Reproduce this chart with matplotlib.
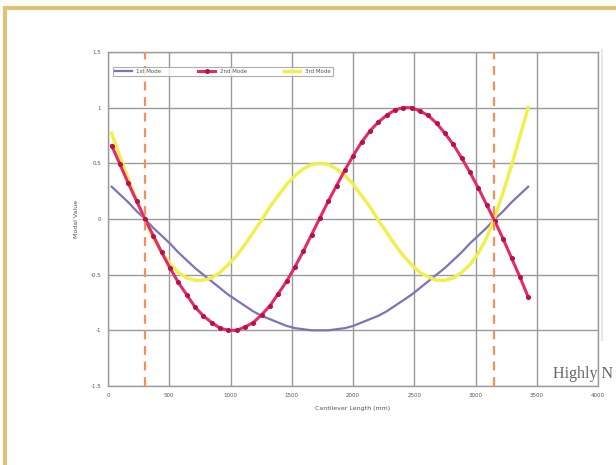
import matplotlib
matplotlib.use("Agg")
import matplotlib.pyplot as plt
from matplotlib.patches import Rectangle
from matplotlib.lines import Line2D

# ---- data ----
position = [30, 98, 166, 234, 302, 370, 438, 506, 574, 642,
            710, 778, 846, 914, 982, 1050, 1118, 1186, 1254, 1322,
            1390, 1458, 1526, 1594, 1662, 1730, 1798, 1866, 1934, 2002,
            2070, 2138, 2206, 2274, 2342, 2410, 2478, 2546, 2614, 2682,
            2750, 2818, 2886, 2954, 3022, 3090, 3158, 3226, 3294, 3362, 3430]

mode1 = [0.29, 0.22, 0.15, 0.07, 0.00, -0.08, -0.15, -0.22, -0.30, -0.37,
         -0.44, -0.50, -0.56, -0.62, -0.68, -0.73, -0.78, -0.83, -0.87, -0.90,
         -0.93, -0.96, -0.98, -0.99, -1.00, -1.00, -1.00, -0.99, -0.98, -0.96,
         -0.93, -0.90, -0.87, -0.83, -0.78, -0.73, -0.68, -0.62, -0.56, -0.50,
         -0.44, -0.37, -0.30, -0.22, -0.15, -0.08, 0.00, 0.07, 0.15, 0.22, 0.29]

mode2 = [0.66, 0.49, 0.32, 0.16, 0.00, -0.15, -0.30, -0.44, -0.57, -0.68,
         -0.79, -0.87, -0.93, -0.98, -1.00, -1.00, -0.97, -0.93, -0.86, -0.78,
         -0.67, -0.56, -0.43, -0.29, -0.14, 0.01, 0.16, 0.30, 0.44, 0.57,
         0.69, 0.79, 0.87, 0.93, 0.98, 1.00, 1.00, 0.97, 0.93, 0.86,
         0.77, 0.67, 0.55, 0.42, 0.28, 0.13, -0.02, -0.18, -0.35, -0.52, -0.70]

mode3 = [0.77, 0.56, 0.36, 0.17, 0.00, -0.17, -0.30, -0.40, -0.48, -0.53,
         -0.55, -0.55, -0.53, -0.48, -0.41, -0.33, -0.23, -0.12, -0.01, 0.11,
         0.21, 0.31, 0.39, 0.45, 0.49, 0.50, 0.49, 0.45, 0.39, 0.31,
         0.21, 0.11, -0.01, -0.12, -0.23, -0.33, -0.41, -0.48, -0.52, -0.55,
         -0.55, -0.53, -0.48, -0.41, -0.31, -0.17, 0.02, 0.24, 0.48, 0.74, 1.00]

node_positions = [300, 3150]

series_labels = ["1st Mode", "2nd Mode", "3rd Mode"]
x_ticks = [0, 500, 1000, 1500, 2000, 2500, 3000, 3500, 4000]
x_tick_labels = ["0", "500", "1000", "1500", "2000", "2500", "3000", "3500", "4000"]
y_ticks = [-1.5, -1, -0.5, 0, 0.5, 1, 1.5]
y_tick_labels = ["-1.5", "-1", "-0.5", "0", "0.5", "1", "1.5"]
x_label = "Cantilever Length (mm)"
y_label = "Modal Value"
side_text = "Highly N"

# ---- figure ----
W, H = 616, 465
fig = plt.figure(figsize=(W / 100, H / 100), dpi=100)
fig.patch.set_facecolor("#fdfcf8")

# tan frame (top and left edges visible; continues past the image edge)
frame = Rectangle((5 / W, -0.1), 1.2, (H - 8) / H + 0.1,
                  transform=fig.transFigure, facecolor="white",
                  edgecolor="#dcc37a", linewidth=3)
frame.set_zorder(-10)
fig.patches.append(frame)
shadow = Line2D([602 / W, 602 / W], [1 - 50 / H, 1 - 340 / H],
                transform=fig.transFigure, color="#e6e6e6", lw=1.5)
shadow.set_zorder(-5)
fig.lines.append(shadow)

ax = fig.add_axes([108 / W, 1 - 386 / H, 490 / W, 334 / H])
ax.set_zorder(1)
ax.set_facecolor("white")

ax.plot(position, mode1, color="#7c74b4", lw=1.6, label=series_labels[0], zorder=3)
ax.plot(position, mode2, color="#e22b6a", lw=2.2, marker="o", ms=2.6,
        markerfacecolor="#b8104a", markeredgecolor="#b8104a",
        label=series_labels[1], zorder=4)
ax.plot(position, mode3, color="#f0f04a", lw=2.4, label=series_labels[2], zorder=3)

for xn in node_positions:
    ax.axvline(xn, color="#f5905a", lw=1.6, ls=(0, (4, 3)), zorder=5)

ax.set_xlim(0, 4000)
ax.set_ylim(-1.5, 1.5)
ax.set_xticks(x_ticks)
ax.set_xticklabels(x_tick_labels)
ax.set_yticks(y_ticks)
ax.set_yticklabels(y_tick_labels)
ax.tick_params(axis="both", labelsize=4, colors="#555555", length=0, pad=5)
ax.grid(True, color="#9a9a9a", lw=1.0)
ax.set_axisbelow(True)
for s in ax.spines.values():
    s.set_color("#9a9a9a")
    s.set_linewidth(1.0)

ax.set_xlabel(x_label, fontsize=4.5, color="#555555", labelpad=6)
ax.set_ylabel(y_label, fontsize=4.5, color="#555555", labelpad=8)

leg = ax.legend(loc="lower left", bbox_to_anchor=(0.01, 0.928, 0.449, 0.063),
                mode="expand", ncol=3, fontsize=4, frameon=True, fancybox=False,
                borderaxespad=0, handlelength=3, labelcolor="#555555")
leg.get_frame().set_edgecolor("#9a9a9a")
leg.get_frame().set_linewidth(0.8)

txt = fig.text(553 / W, 1 - 378 / H, side_text, fontsize=11.5,
               family="Liberation Serif", color="#666666", ha="left", va="baseline")
txt.set_zorder(5)

fig.savefig("out.png", dpi=100)
